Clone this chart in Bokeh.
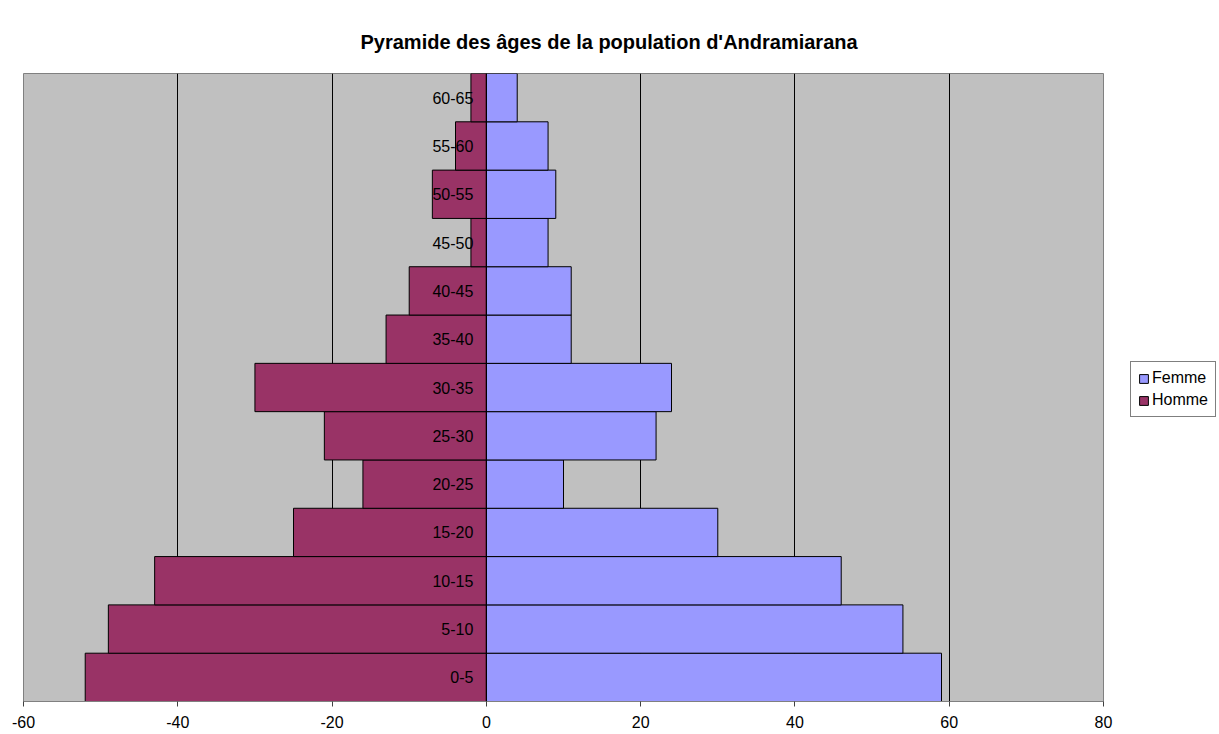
from bokeh.plotting import figure
from bokeh.layouts import row
from bokeh.models import FactorRange, Range1d, FixedTicker, Legend, LegendItem, Span
from bokeh.embed import file_html
from bokeh.resources import INLINE
from bokeh.core.properties import value

# ---- data ----
age_groups = ["0-5", "5-10", "10-15", "15-20", "20-25", "25-30", "30-35",
              "35-40", "40-45", "45-50", "50-55", "55-60", "60-65"]
femme = [59, 54, 46, 30, 10, 22, 24, 11, 11, 8, 9, 8, 4]
homme = [-52, -49, -43, -25, -16, -21, -30, -13, -10, -2, -7, -4, -2]
x_ticks = [-60, -40, -20, 0, 20, 40, 60, 80]
x_tick_labels = ["-60", "-40", "-20", "0", "20", "40", "60", "80"]
grid_ticks = [-40, -20, 20, 40, 60]
title_text = "Pyramide des âges de la population d'Andramiarana"
series_names = ["Femme", "Homme"]
series_colors = ["#9999FF", "#993366"]

FONT = "Liberation Sans"
W_MAIN, W_LEG, H = 1117, 102, 734

p = figure(width=W_MAIN, height=H, output_backend="svg", toolbar_location=None,
           y_range=FactorRange(factors=age_groups, range_padding=0),
           x_range=Range1d(-60, 80),
           min_border_left=23, min_border_right=14,
           min_border_top=73, min_border_bottom=33)

p.background_fill_color = "#C0C0C0"
p.border_fill_color = "white"
p.outline_line_color = "#808080"
p.outline_line_width = 1

# title
p.title.text = title_text
p.title.align = "left"
p.title.vertical_align = "top"
p.title.offset = 337
p.title.standoff = 38
p.title.text_font = FONT
p.title.text_font_size = "20px"
p.title.text_font_style = "bold"
p.title.text_color = "black"

# grid
p.ygrid.visible = False
p.xgrid.ticker = FixedTicker(ticks=grid_ticks)
p.xgrid.grid_line_color = "black"
p.xgrid.grid_line_width = 1

# axes
p.yaxis.visible = False
ax = p.xaxis[0]
ax.ticker = FixedTicker(ticks=x_ticks)
ax.major_label_overrides = {t: l for t, l in zip(x_ticks, x_tick_labels)}
ax.major_label_text_font = FONT
ax.major_label_text_font_size = "16px"
ax.major_label_text_color = "black"
ax.major_label_standoff = 9
ax.major_tick_out = 5
ax.major_tick_in = 0
ax.minor_tick_in = 0
ax.minor_tick_out = 0
ax.axis_line_color = "#808080"
ax.major_tick_line_color = "#404040"

zeros = [0] * len(age_groups)

p.hbar(y=age_groups, left=zeros, right=femme, height=1.0,
       fill_color=series_colors[0], line_color="black", line_width=1)
p.hbar(y=age_groups, left=homme, right=zeros, height=1.0,
       fill_color=series_colors[1], line_color="black", line_width=1)

p.add_layout(Span(location=0, dimension="height", line_color="black", line_width=1))

p.text(x=zeros, y=age_groups, text=age_groups, x_offset=-13,
       text_align="right", text_baseline="middle",
       text_font=value(FONT), text_font_size=value("16px"), text_color="black")

# ---- legend panel (separate narrow figure to the right) ----
q = figure(width=W_LEG, height=H, output_backend="svg", toolbar_location=None,
           x_range=Range1d(0, 1), y_range=Range1d(0, 1),
           x_axis_type=None, y_axis_type=None,
           min_border_left=0, min_border_right=0, min_border_top=0, min_border_bottom=0)
q.title = None
q.outline_line_color = None
q.background_fill_color = "white"
q.border_fill_color = "white"
q.xgrid.visible = False
q.ygrid.visible = False

nan = float("nan")
items = []
for name, col in zip(series_names, series_colors):
    # legend-only renderer (no visible mark)
    r = q.hbar(y=[nan], left=[nan], right=[nan], height=1.0,
               fill_color=col, line_color="black", line_width=1)
    items.append(LegendItem(label=name, renderers=[r]))

legend = Legend(items=items, location=(13, 284), margin=0, padding=7, spacing=4,
                glyph_width=11, glyph_height=11, label_height=18,
                label_standoff=3,
                label_text_font=FONT, label_text_font_size="16px",
                label_text_color="black",
                border_line_color="black", border_line_width=1,
                background_fill_color="white", background_fill_alpha=1)
q.add_layout(legend, "center")

layout = row(p, q)
open("out.html", "w").write(file_html(layout, INLINE))
